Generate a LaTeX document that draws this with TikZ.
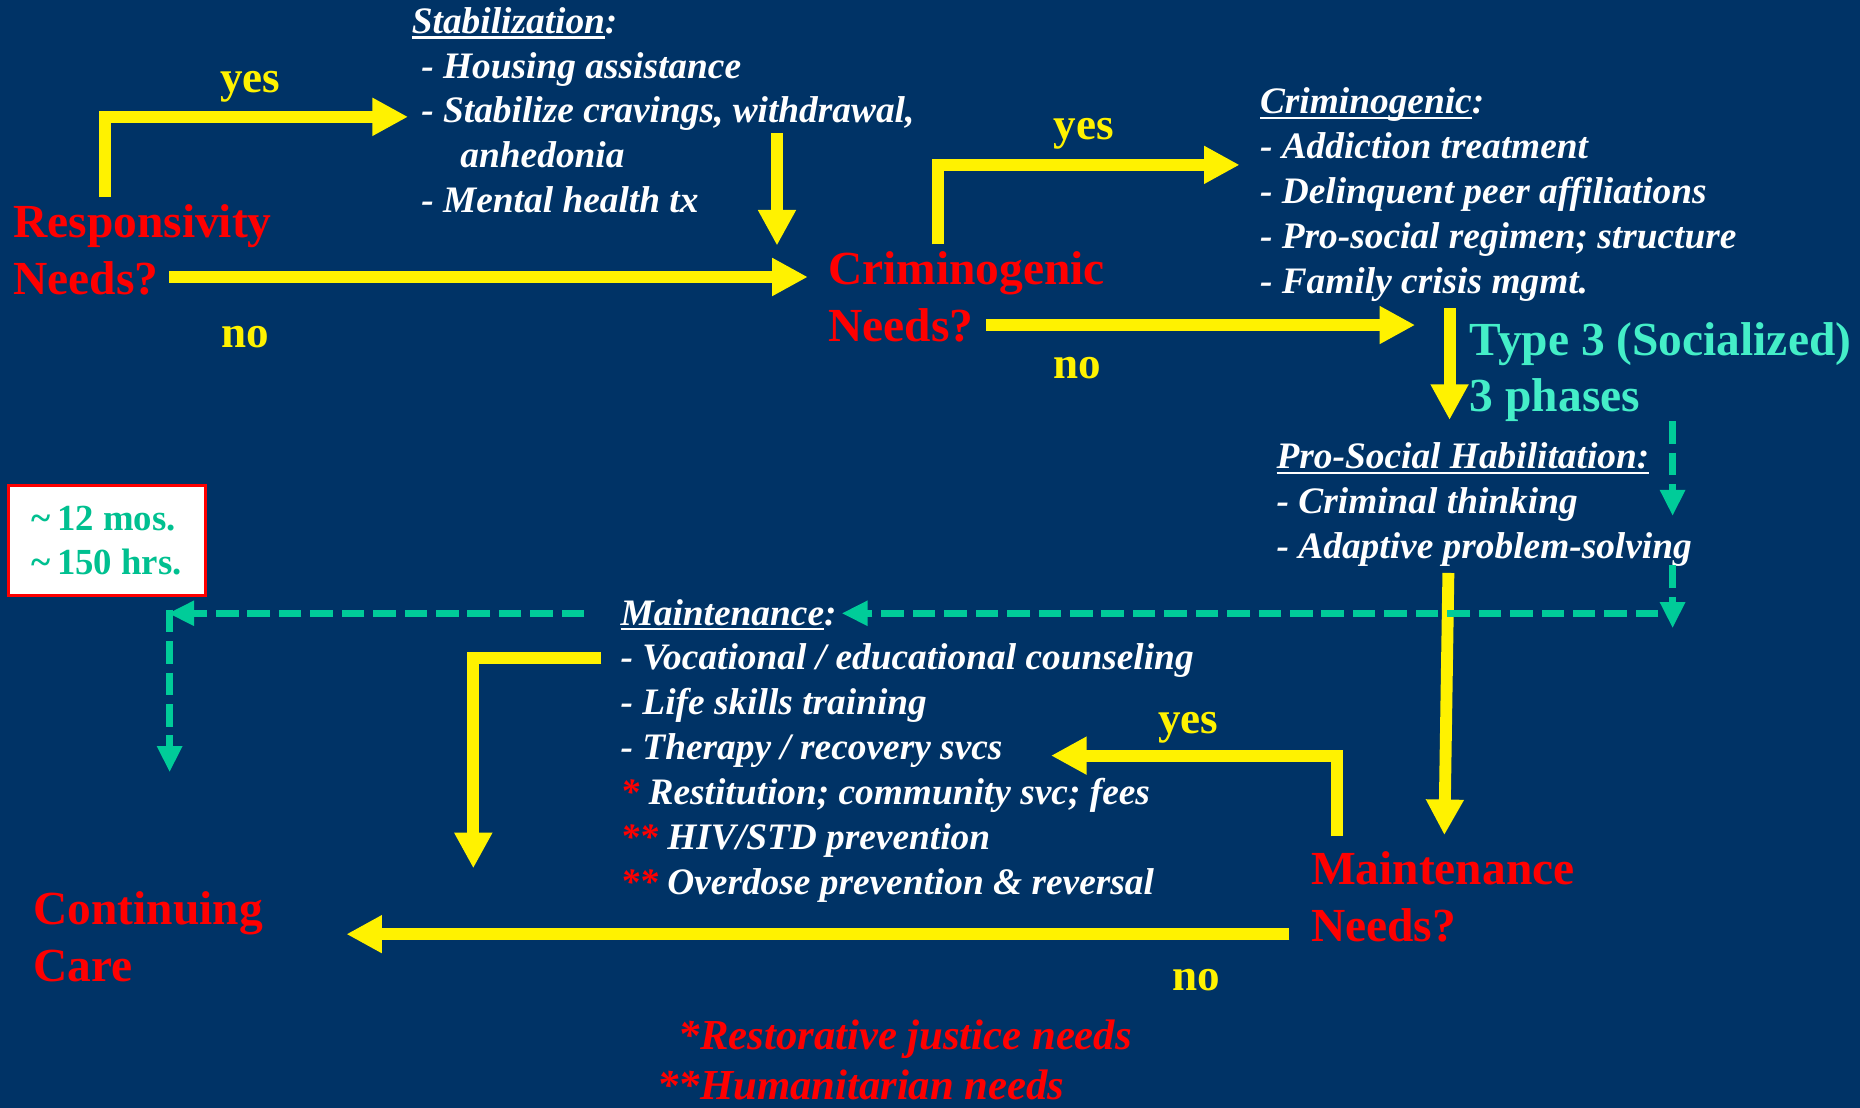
\documentclass[tikz,border=0pt]{standalone}
\usepackage{fontspec}
\setmainfont{Liberation Serif}
\usetikzlibrary{arrows.meta}

\definecolor{navy}{HTML}{003366}
\definecolor{dashgreen}{HTML}{00CC99}
\definecolor{aqua}{HTML}{44EEC8}
\definecolor{teal}{HTML}{00C090}

\newsavebox\hdrbox
\newcommand{\hdrline}[1]{\sbox\hdrbox{#1}\rlap{\rule[-4.5pt]{\wd\hdrbox}{2pt}}\usebox\hdrbox}

\begin{document}
\begin{tikzpicture}[x=1pt,y=-1pt,
 yarr/.style={yellow,line width=10pt,-{Triangle[length=30pt,width=30pt]}},
 garr/.style={dashgreen,line width=6pt,dash pattern=on 19pt off 7.5pt,-{Triangle[length=22pt,width=20pt]}},
 need/.style={anchor=base west,inner sep=0pt,align=left,text=red,font=\bfseries\fontsize{40}{48}\selectfont},
 ans/.style={anchor=base west,inner sep=0pt,text=yellow,font=\bfseries\fontsize{38}{44}\selectfont},
 lst/.style={anchor=base west,inner sep=0pt,align=left,text=white,font=\bfseries\itshape\fontsize{31.5}{37.8}\selectfont},
 typ/.style={anchor=base west,inner sep=0pt,align=left,text=aqua,font=\bfseries\fontsize{40}{47}\selectfont},
 note/.style={anchor=base west,inner sep=0pt,text=red,font=\bfseries\itshape\fontsize{36}{42}\selectfont}]
\fill[navy] (0,0) rectangle (1568,934);
\clip (0,0) rectangle (1568,934);

% decision nodes (base = last line)
\node[need] (resp) at (11,248) {Responsivity\\Needs?};
\node[need] (crim) at (698,288) {Criminogenic\\Needs?};
\node[need] (maint) at (1105,794) {Maintenance\\Needs?};
\node[need] (cont) at (28,827) {Continuing\\Care};

% service lists
\node[lst] (stab) at (347,179.2) {\hdrline{Stabilization}:\\
 \hspace*{8pt}- Housing assistance\\
 \hspace*{8pt}- Stabilize cravings, withdrawal,\\
 \hspace*{41pt}anhedonia\\
 \hspace*{8pt}- Mental health tx};
\node[lst] (crimlist) at (1062,247.2) {\hdrline{Criminogenic}:\\
 - Addiction treatment\\
 - Delinquent peer affiliations\\
 - Pro-social regimen; structure\\
 - Family crisis mgmt.};
\node[lst] (habil) at (1076,470.6) {\hdrline{Pro-Social Habilitation:}\\
 - Criminal thinking\\
 - Adaptive problem-solving};
\node[lst] (mainlist) at (523,753.8) {\hdrline{Maintenance}:\\
 - Vocational / educational counseling\\
 - Life skills training\\
 - Therapy / recovery svcs\\
 {\color{red}*} Restitution; community svc; fees\\
 {\color{red}**} HIV/STD prevention\\
 {\color{red}**} Overdose prevention \& reversal};

\node[typ] (type3) at (1239,347) {Type 3 (Socialized)\\3 phases};
\node[draw=red,line width=2.5pt,fill=white,minimum width=166pt,minimum height=93pt,
 align=left,text=teal,font=\bfseries\fontsize{31}{37.5}\selectfont] (dur) at (90,455.5)
 {\textasciitilde\,12 mos.\\\textasciitilde\,150 hrs.};

% yes / no
\node[ans] (yes1) at (185.5,78) {yes};
\node[ans] (no1) at (186.5,293) {no};
\node[ans] (yes2) at (888,118) {yes};
\node[ans] (no2) at (888,319) {no};
\node[ans] (yes3) at (976,618) {yes};
\node[ans] (no3) at (988,835) {no};

\node[note] (restor) at (572,885) {*Restorative justice needs};
\node[note] (human) at (554,927) {**Humanitarian needs};

% yellow flow
\coordinate (a1s) at (88.6,166); \coordinate (a1c) at (88.6,98.5); \coordinate (a1e) at (344,98.5);
\coordinate (a2s) at (655,112); \coordinate (a2e) at (655,207);
\coordinate (a3s) at (142.5,233.5); \coordinate (a3e) at (681,233.5);
\coordinate (a4s) at (791,206); \coordinate (a4c) at (791,139); \coordinate (a4e) at (1045,139);
\coordinate (a5s) at (831,274); \coordinate (a5e) at (1193,274);
\coordinate (a6s) at (1222,260); \coordinate (a6e) at (1222,354);
\coordinate (a7s) at (1221,483); \coordinate (a7e) at (1217.6,704);
\coordinate (a8s) at (1127,705); \coordinate (a8c) at (1127,637); \coordinate (a8e) at (886,637);
\coordinate (a9s) at (1087,787.5); \coordinate (a9e) at (292,787.5);
\coordinate (a10s) at (507,555); \coordinate (a10c) at (399,555); \coordinate (a10e) at (399,732);
\draw[yarr] (a1s) -- (a1c) -- (a1e);
\draw[yarr] (a2s) -- (a2e);
\draw[yarr] (a3s) -- (a3e);
\draw[yarr] (a4s) -- (a4c) -- (a4e);
\draw[yarr] (a5s) -- (a5e);
\draw[yarr] (a6s) -- (a6e);
\draw[yarr] (a7s) -- (a7e);
\draw[yarr] (a8s) -- (a8c) -- (a8e);
\draw[yarr] (a9s) -- (a9e);
\draw[yarr] (a10s) -- (a10c) -- (a10e);

% dashed phase path
\coordinate (g1s) at (1410,355); \coordinate (g1e) at (1410,435);
\coordinate (g2s) at (1410,476.6); \coordinate (g2e) at (1410,529.6);
\coordinate (g3s) at (1398,517); \coordinate (g3e) at (709.5,517);
\coordinate (g4s) at (492.6,517); \coordinate (g4e) at (141.7,517);
\coordinate (g5s) at (143,514); \coordinate (g5e) at (143,651);
\draw[garr] (g1s) -- (g1e);
\draw[garr] (g2s) -- (g2e);
\draw[garr] (g3s) -- (g3e);
\draw[garr] (g4s) -- (g4e);
\draw[garr] (g5s) -- (g5e);
\end{tikzpicture}
\end{document}
